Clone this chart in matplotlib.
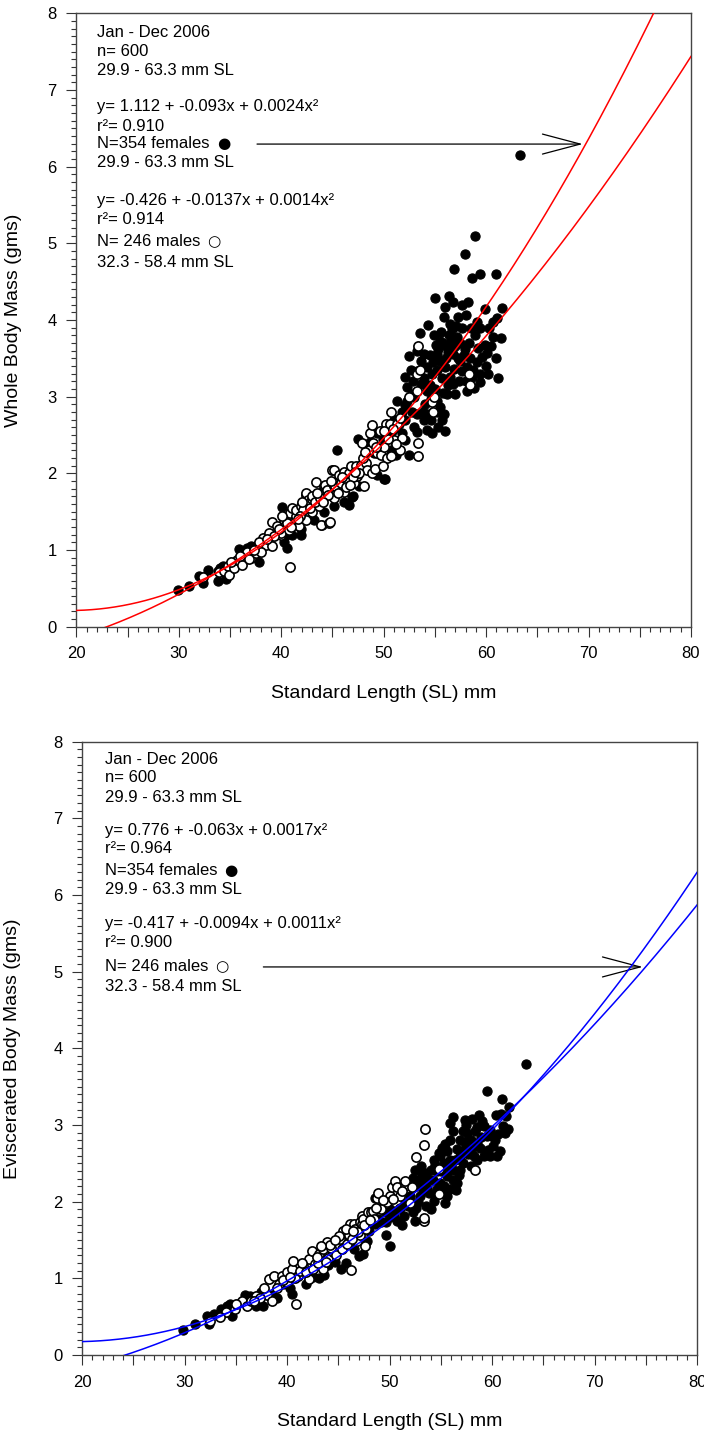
import matplotlib
matplotlib.use("Agg")
import matplotlib.pyplot as plt
import numpy as np
from matplotlib.ticker import MultipleLocator, FuncFormatter

plt.rcParams["font.family"] = ["Liberation Sans", "DejaVu Sans"]

# (standard length mm, whole body mass g)
whole_females = [
    (29.9, 0.48), (31.0, 0.53), (32.0, 0.66), (32.4, 0.57), (32.9, 0.74), (33.8, 0.59),
    (33.8, 0.72), (34.0, 0.77), (34.3, 0.79), (34.6, 0.69), (34.6, 0.62), (35.9, 1.01),
    (36.5, 0.94), (36.7, 1.03), (37.1, 1.05), (37.5, 1.05), (37.85, 0.84), (38.5, 1.11),
    (40.1, 1.56), (40.4, 1.18), (40.6, 1.03), (40.3, 1.11), (41.1, 1.20), (41.9, 1.20),
    (41.9, 1.28), (43.2, 1.39), (44.0, 1.32), (44.2, 1.50), (45.2, 1.57), (45.4, 2.30),
    (46.1, 1.63), (46.6, 1.59), (46.9, 1.69), (47.0, 1.70), (47.0, 2.06), (47.5, 2.45),
    (47.6, 1.83), (48.1, 2.17), (48.4, 2.35), (48.7, 2.41), (49.1, 2.26), (49.4, 2.52),
    (49.4, 1.98), (49.7, 2.30), (50.0, 1.93), (50.1, 1.93), (50.3, 2.61), (50.7, 2.30),
    (51.0, 2.69), (51.2, 2.24), (51.3, 2.95), (51.5, 2.65), (51.8, 2.52), (52.1, 2.43),
    (52.1, 2.69), (52.1, 2.89), (52.1, 3.26), (52.3, 2.95), (52.3, 3.13), (52.5, 2.24),
    (52.5, 3.53), (52.8, 2.80), (52.8, 3.04), (52.9, 3.21), (53.3, 2.54), (53.3, 2.78),
    (53.3, 3.34), (53.5, 3.83), (53.6, 3.17), (53.6, 3.47), (53.8, 2.80), (53.9, 2.70),
    (53.9, 3.56), (54.2, 2.56), (54.2, 2.78), (54.2, 3.08), (54.2, 3.39), (54.3, 3.93),
    (54.6, 2.97), (54.7, 2.52), (54.7, 3.30), (54.9, 3.80), (55.0, 4.29), (55.1, 3.67),
    (55.2, 2.80), (55.2, 2.95), (55.2, 3.56), (55.5, 2.87), (55.5, 3.47), (55.5, 3.73),
    (55.7, 2.69), (55.9, 2.78), (55.9, 4.04), (56.0, 3.39), (56.0, 4.17), (56.2, 3.04),
    (56.2, 3.65), (56.4, 4.31), (56.5, 3.26), (56.5, 3.95), (56.8, 3.17), (56.8, 3.56),
    (56.8, 4.23), (56.9, 4.67), (57.0, 3.04), (57.3, 4.04), (57.5, 3.47), (57.6, 3.34),
    (57.6, 4.19), (57.65, 3.89), (57.9, 4.86), (58.0, 3.21), (58.0, 4.07), (58.1, 3.08),
    (58.1, 3.39), (58.2, 4.24), (58.5, 3.89), (58.6, 3.26), (58.6, 4.55), (58.8, 3.11),
    (58.9, 5.10), (59.1, 3.45), (59.1, 3.97), (59.2, 3.64), (59.4, 3.19), (59.4, 3.30),
    (59.4, 3.89), (59.4, 4.60), (59.9, 3.68), (59.9, 4.15), (60.1, 3.57), (60.2, 3.30),
    (60.3, 3.89), (60.7, 3.78), (60.7, 3.97), (61.0, 4.60), (61.1, 4.02), (61.2, 3.24),
    (61.5, 3.76), (61.6, 4.16), (63.3, 6.15), (55.3, 3.62), (55.8, 3.70), (56.3, 3.58),
    (56.6, 3.72), (57.0, 3.66), (57.2, 3.78), (55.6, 3.85), (56.1, 3.50), (57.8, 3.55),
    (58.3, 3.70), (54.5, 3.15), (53.0, 3.00), (55.0, 3.10), (56.9, 3.36), (57.4, 3.20),
    (55.3, 2.60), (56.0, 2.55), (54.5, 3.55), (54.8, 3.45), (55.2, 3.35), (55.7, 3.25),
    (56.4, 3.80), (56.7, 3.88), (57.1, 3.92), (57.5, 3.70), (57.9, 3.62), (58.4, 3.50),
    (58.9, 3.80), (59.6, 3.52), (60.5, 3.66), (53.9, 3.25), (53.3, 3.60), (52.7, 3.35),
    (54.0, 2.90), (54.6, 2.70), (55.8, 3.05), (56.3, 3.15), (57.3, 3.50), (58.7, 3.35),
    (60.0, 3.40), (61.0, 3.50), (53.0, 2.60), (51.8, 2.80), (50.8, 2.55), (49.9, 2.45),
]
whole_males = [
    (32.4, 0.65), (33.9, 0.71), (34.4, 0.72), (34.8, 0.79), (34.9, 0.68), (35.4, 0.77),
    (35.7, 0.87), (36.2, 0.81), (36.7, 0.98), (37.1, 0.90), (37.5, 0.96), (38.2, 1.16),
    (38.5, 1.07), (38.8, 1.22), (39.1, 1.05), (39.1, 1.37), (39.6, 1.31), (39.96, 1.20),
    (40.0, 1.22), (40.3, 1.39), (40.4, 1.31), (40.8, 1.26), (40.9, 0.78), (40.9, 1.48),
    (41.1, 1.55), (41.3, 1.39), (41.4, 1.44), (41.4, 1.52), (41.7, 1.31), (41.9, 1.57),
    (42.1, 1.52), (42.4, 1.39), (42.4, 1.72), (42.4, 1.74), (42.6, 1.65), (43.0, 1.50),
    (43.0, 1.66), (43.0, 1.70), (43.4, 1.89), (43.7, 1.57), (43.7, 1.72), (43.9, 1.33),
    (44.0, 1.76), (44.2, 1.83), (44.3, 1.85), (44.5, 1.78), (44.7, 1.35), (44.8, 1.37),
    (45.0, 2.04), (45.2, 1.68), (45.2, 1.83), (45.2, 2.04), (45.3, 1.83), (45.6, 1.98),
    (45.8, 1.87), (46.1, 1.76), (46.1, 1.98), (46.1, 2.02), (46.4, 1.91), (46.5, 1.89),
    (46.6, 2.00), (46.8, 2.09), (47.1, 1.87), (47.3, 2.09), (47.4, 1.96), (47.8, 2.11),
    (48.1, 1.83), (48.3, 2.14), (48.4, 2.04), (48.6, 2.30), (48.7, 2.52), (48.9, 2.00),
    (48.9, 2.63), (49.2, 2.06), (49.4, 2.26), (49.6, 2.55), (49.7, 2.24), (50.0, 2.35),
    (50.2, 2.65), (50.3, 2.20), (50.6, 2.65), (50.7, 2.22), (50.7, 2.80), (51.0, 2.43),
    (51.3, 2.65), (51.6, 2.30), (51.6, 2.72), (51.8, 2.46), (52.5, 2.99), (53.3, 3.08),
    (53.3, 3.30), (53.4, 2.23), (53.4, 2.39), (53.4, 3.66), (53.5, 3.35), (54.7, 2.93),
    (54.8, 2.80), (54.9, 2.99), (58.3, 3.30), (58.4, 3.15), (39.3, 1.18), (40.6, 1.35),
    (41.0, 1.30), (41.8, 1.45), (42.8, 1.55), (43.3, 1.62), (43.8, 1.68), (44.6, 1.72),
    (45.5, 1.75), (46.3, 1.82), (47.0, 1.95), (47.6, 2.00), (48.0, 2.20), (36.0, 0.92),
    (37.8, 1.10), (38.0, 0.98), (49.0, 2.40), (50.4, 2.45), (49.9, 2.10), (42.0, 1.62),
    (43.5, 1.75), (44.9, 1.90), (45.9, 1.95), (46.7, 1.85), (47.2, 2.02), (48.2, 2.28),
    (49.3, 2.35), (50.0, 2.55), (50.9, 2.58), (39.8, 1.27), (38.6, 1.14), (37.3, 1.00),
    (35.1, 0.84), (36.9, 0.88), (40.1, 1.45), (41.6, 1.40), (44.1, 1.62), (47.9, 2.40),
    (51.2, 2.38),
]

# (standard length mm, eviscerated body mass g)
evis_females = [
    (29.9, 0.33), (31.0, 0.40), (32.2, 0.51), (32.4, 0.40), (32.9, 0.53), (33.6, 0.60),
    (34.1, 0.64), (34.4, 0.67), (34.6, 0.51), (34.2, 0.56), (35.9, 0.79), (36.4, 0.77),
    (36.9, 0.73), (37.0, 0.64), (37.5, 0.82), (37.7, 0.64), (39.6, 0.93), (40.3, 0.88),
    (40.5, 0.80), (41.9, 0.93), (43.1, 1.01), (43.6, 1.05), (44.7, 1.21), (45.3, 1.12),
    (45.8, 1.20), (47.0, 1.29), (47.4, 1.32), (47.8, 1.49), (48.6, 2.05), (48.6, 1.71),
    (48.9, 1.77), (49.2, 1.73), (49.6, 1.86), (49.7, 1.56), (49.7, 1.73), (50.05, 1.42),
    (50.05, 1.90), (50.4, 1.82), (50.7, 1.75), (50.9, 1.90), (51.4, 1.82), (51.5, 1.99),
    (51.8, 1.95), (52.0, 2.08), (52.3, 1.86), (52.3, 2.31), (52.5, 1.75), (52.5, 2.42),
    (52.7, 2.21), (53.0, 2.08), (53.1, 2.47), (53.3, 2.16), (53.5, 2.25), (53.6, 1.95),
    (53.6, 2.38), (53.9, 2.12), (54.0, 2.42), (54.3, 2.01), (54.3, 2.55), (54.4, 2.08),
    (54.6, 2.16), (54.6, 2.40), (54.8, 2.64), (54.9, 2.25), (54.9, 2.60), (55.3, 2.51),
    (55.6, 2.08), (55.6, 2.34), (55.6, 2.66), (55.9, 2.16), (55.9, 2.55), (55.9, 2.81),
    (55.9, 3.03), (56.2, 2.29), (56.2, 2.42), (56.2, 2.92), (56.2, 3.10), (56.6, 2.25),
    (56.6, 2.69), (56.9, 2.42), (56.9, 2.60), (56.9, 2.81), (57.2, 2.51), (57.2, 2.92),
    (57.4, 3.07), (57.5, 2.73), (57.5, 3.00), (57.9, 2.47), (57.9, 2.81), (58.0, 3.08),
    (58.2, 2.60), (58.5, 2.55), (58.5, 2.77), (58.5, 2.97), (58.7, 3.13), (59.2, 2.60),
    (59.2, 2.99), (59.5, 2.86), (59.5, 3.44), (59.8, 2.60), (59.8, 2.94), (60.0, 2.86),
    (60.1, 2.73), (60.4, 3.13), (60.5, 2.60), (60.8, 2.66), (61.0, 3.34), (61.1, 2.99),
    (61.3, 2.90), (61.4, 3.12), (61.7, 3.23), (63.3, 3.80), (53.8, 2.30), (54.2, 2.28),
    (55.0, 2.40), (55.3, 2.20), (55.8, 2.45), (56.4, 2.55), (57.0, 2.65), (57.7, 2.62),
    (58.8, 2.70), (55.1, 2.70), (53.2, 2.35), (52.8, 2.00), (51.2, 1.70), (55.4, 1.98),
    (54.0, 1.90), (56.5, 2.15), (56.0, 2.48), (56.8, 2.35), (57.4, 2.78), (58.0, 2.70),
    (58.9, 2.85), (59.6, 2.68), (60.3, 2.80), (55.4, 2.75), (54.4, 2.48), (53.7, 2.18),
    (52.9, 2.28), (55.0, 2.12), (57.6, 2.90), (58.3, 2.92), (59.0, 3.05), (60.6, 2.88),
    (61.6, 2.95), (60.9, 3.15), (52.6, 1.92), (51.0, 1.92), (50.0, 1.80), (48.0, 1.62),
    (46.5, 1.38), (44.0, 1.18), (42.5, 1.02), (38.5, 0.78), (39.0, 0.74),
]
evis_males = [
    (32.5, 0.45), (34.0, 0.56), (34.9, 0.60), (35.6, 0.71), (36.1, 0.64), (37.0, 0.77),
    (38.0, 0.79), (38.2, 0.99), (38.5, 0.71), (38.7, 1.03), (39.2, 0.93), (39.5, 1.03),
    (39.97, 1.08), (40.5, 1.12), (40.6, 1.23), (40.9, 0.66), (41.1, 1.03), (41.6, 1.16),
    (42.1, 0.99), (42.1, 1.25), (42.4, 1.36), (42.7, 1.19), (43.1, 1.32), (43.5, 1.12),
    (43.5, 1.38), (43.9, 1.47), (44.0, 1.27), (44.5, 1.34), (45.0, 1.43), (45.2, 1.51),
    (45.5, 1.62), (46.0, 1.56), (46.1, 1.71), (46.2, 1.11), (46.5, 1.71), (46.6, 1.64),
    (46.8, 1.49), (47.1, 1.56), (47.1, 1.73), (47.3, 1.71), (47.3, 1.82), (47.4, 1.77),
    (47.6, 1.42), (47.9, 1.86), (48.2, 1.86), (48.4, 1.88), (48.8, 2.05), (48.9, 2.12),
    (49.6, 1.97), (50.05, 2.08), (50.2, 2.19), (50.5, 2.27), (50.7, 2.19), (51.0, 2.08),
    (51.5, 2.21), (51.5, 2.27), (52.0, 1.99), (52.2, 2.19), (52.6, 2.58), (53.4, 1.75),
    (53.4, 1.79), (53.4, 2.74), (53.5, 2.95), (54.8, 2.10), (54.8, 2.43), (58.3, 2.41),
    (39.0, 0.88), (40.0, 0.95), (40.8, 1.00), (41.3, 1.10), (41.9, 1.08), (42.5, 1.12),
    (43.0, 1.20), (43.8, 1.22), (44.3, 1.40), (44.8, 1.30), (45.4, 1.38), (45.9, 1.45),
    (46.3, 1.52), (46.9, 1.60), (47.7, 1.65), (48.5, 1.78), (49.2, 1.90), (49.8, 2.00),
    (36.5, 0.70), (37.4, 0.75), (35.0, 0.66), (33.5, 0.50), (41.5, 1.20), (42.9, 1.28),
    (44.2, 1.44), (45.1, 1.55), (45.8, 1.65), (46.4, 1.62), (47.5, 1.70), (48.1, 1.76),
    (48.7, 1.92), (49.4, 2.02), (50.3, 2.04), (51.2, 2.14), (39.6, 0.98), (40.3, 1.02),
    (37.8, 0.88), (36.8, 0.70), (43.3, 1.42), (44.7, 1.50),
]

# quadratic fits: intercept, linear, quadratic
whole_fit_females = [1.112, -0.093, 0.0024]
whole_fit_males = [-0.426, -0.0137, 0.0014]
evis_fit_females = [0.776, -0.063, 0.00165]
evis_fit_males = [-0.417, -0.0094, 0.0011]

whole_text = [
    "Jan - Dec 2006", "n= 600", "29.9 - 63.3 mm SL",
    "y= 1.112 + -0.093x + 0.0024x\u00b2", "r\u00b2= 0.910", "N=354 females", "29.9 - 63.3 mm SL",
    "y= -0.426 + -0.0137x + 0.0014x\u00b2", "r\u00b2= 0.914", "N= 246 males", "32.3 - 58.4 mm SL",
]
evis_text = [
    "Jan - Dec 2006", "n= 600", "29.9 - 63.3 mm SL",
    "y= 0.776 + -0.063x + 0.0017x\u00b2", "r\u00b2= 0.964", "N=354 females", "29.9 - 63.3 mm SL",
    "y= -0.417 + -0.0094x + 0.0011x\u00b2", "r\u00b2= 0.900", "N= 246 males", "32.3 - 58.4 mm SL",
]
# symbol keys shown after the "N=" lines
text_keys = {5: "\u25cf", 9: "\u25cb"}
whole_text_y = [0.968, 0.938, 0.907, 0.847, 0.816, 0.787, 0.756, 0.695, 0.663, 0.627, 0.594]
evis_text_y = [0.971, 0.941, 0.909, 0.855, 0.825, 0.789, 0.758, 0.704, 0.673, 0.633, 0.600]


def style_axes(ax, ylabel):
    ax.set_xlim(20, 80)
    ax.set_ylim(0, 8)
    ax.xaxis.set_major_locator(MultipleLocator(5))
    ax.xaxis.set_minor_locator(MultipleLocator(1))
    ax.xaxis.set_major_formatter(
        FuncFormatter(lambda v, p: f"{v:.0f}" if round(v) % 10 == 0 else ""))
    ax.yaxis.set_major_locator(MultipleLocator(1))
    ax.yaxis.set_minor_locator(MultipleLocator(0.1))
    ax.tick_params(which="both", direction="out", top=False, right=False,
                   width=0.8, color="#333333", labelsize=12)
    ax.tick_params(which="major", length=7, pad=7)
    ax.tick_params(which="minor", length=3.5)
    for sp in ax.spines.values():
        sp.set_color("#444444")
        sp.set_linewidth(1.0)
    ax.set_xlabel("Standard Length (SL) mm", fontsize=14)
    ax.set_ylabel(ylabel, fontsize=14)


def draw_panel(ax, females, males, fit_f, fit_m, color, lines, line_y, text_x,
               arrow_from, arrow_to, ylabel):
    f = np.array(females)
    m = np.array(males)
    ax.scatter(f[:, 0], f[:, 1], s=44, facecolor="black", edgecolor="black",
               linewidth=0.8, zorder=3)
    ax.scatter(m[:, 0], m[:, 1], s=44, facecolor="white", edgecolor="black",
               linewidth=1.2, zorder=4)
    xs = np.linspace(20, 80, 400)
    for c in (fit_f, fit_m):
        ax.plot(xs, c[0] + c[1] * xs + c[2] * xs ** 2, color=color, lw=1.1, zorder=5)
    for i, (s, y) in enumerate(zip(lines, line_y)):
        t = ax.text(text_x, y - 0.007, s, transform=ax.transAxes, fontsize=12,
                    va="baseline", ha="left")
        if i in text_keys:
            ax.annotate(text_keys[i], xy=(1, 0), xycoords=t,
                        xytext=(5, 0), textcoords="offset points",
                        va="bottom", ha="left", fontsize=11, family="DejaVu Sans")
    ax.annotate("", xy=arrow_to, xytext=arrow_from,
                arrowprops=dict(arrowstyle="->,head_length=1.36,head_width=0.36",
                                mutation_scale=20, lw=0.9, color="black",
                                shrinkA=0, shrinkB=0))
    style_axes(ax, ylabel)


fig = plt.figure(figsize=(7.04, 14.37), dpi=100)
ax1 = fig.add_axes([0.1084, 0.5639, 0.8731, 0.4268])
ax2 = fig.add_axes([0.1165, 0.0570, 0.8736, 0.4268])

draw_panel(ax1, whole_females, whole_males, whole_fit_females, whole_fit_males,
           "#ff0000", whole_text, whole_text_y, 0.034,
           (37.64, 6.295), (69.43, 6.295), "Whole Body Mass (gms)")
draw_panel(ax2, evis_females, evis_males, evis_fit_females, evis_fit_males,
           "#0000ff", evis_text, evis_text_y, 0.037,
           (37.69, 5.063), (74.7, 5.063), "Eviscerated Body Mass (gms)")

ax1.xaxis.set_label_coords(0.5, -0.095)
ax1.yaxis.set_label_coords(-0.088, 0.5)
ax2.xaxis.set_label_coords(0.5, -0.095)
ax2.yaxis.set_label_coords(-0.10, 0.5)

fig.savefig("out.png", dpi=100)
plt.close(fig)
